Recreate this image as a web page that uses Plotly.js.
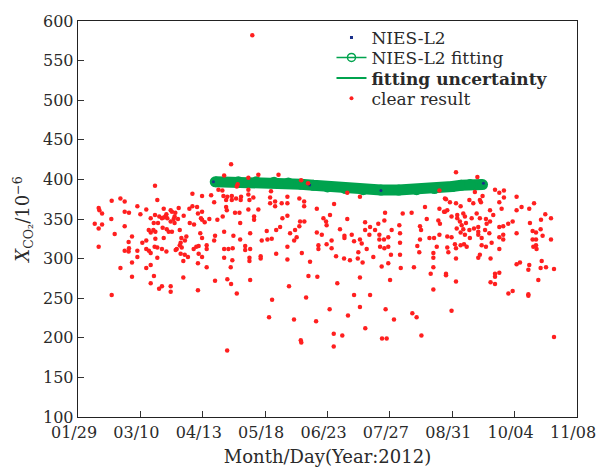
<!DOCTYPE html>
<html><head><meta charset="utf-8">
<script src="https://cdn.plot.ly/plotly-3.0.1.min.js"></script>
<style>html,body{margin:0;padding:0;background:#fff}#chart{width:597px;height:467px}</style>
</head><body><div id="chart"></div>
<script>
// x values: days after 01/29 (axis ticks every 35 days)
const tickDays = [0,35,70,105,140,175,210,245,280];
const tickLabels = ["01/29","03/10","04/13","05/18","06/23","07/27","08/31","10/04","11/08"];
const yTicks = [100,150,200,250,300,350,400,450,500,550,600];

const clearDays = [43.2,64.2,69.6,18.9,23.8,26.2,44.5,11.6,12.0,13.5,33.3,38.3,48.1,52.0,56.5,62.5,64.2,66.8,67.3,69.6,26.2,28.6,35.0,43.2,45.6,49.6,49.0,52.7,54.6,54.2,59.3,69.0,9.4,11.6,13.5,18.7,26.2,40.8,42.5,44.9,47.1,48.1,50.1,52.0,53.7,54.2,56.1,62.7,65.1,69.6,71.1,20.6,39.7,40.8,42.3,43.4,47.5,49.8,50.9,52.7,43.4,48.1,57.1,60.8,58.0,60.0,57.6,68.6,69.6,11.6,28.4,30.3,36.1,38.3,43.0,44.5,57.1,58.2,55.4,66.4,67.7,26.2,28.6,28.4,33.3,38.3,39.8,40.8,47.1,49.6,54.8,57.6,59.9,61.7,64.9,67.7,33.3,44.5,67.3,69.6,30.3,59.1,23.8,38.3,40.8,30.3,42.6,59.1,40.8,18.9,45.5,47.1,52.0,52.0,67.3,
85.9,82,95.6,101.2,112.5,125.2,129.1,89.6,78.8,81,89.1,95.6,74.7,76.4,81.6,83.1,83.8,86.3,86.3,88.7,91.5,91.3,95.6,96.2,98.4,108.3,107.8,107.8,110.6,110.6,114.3,117.5,117.5,124.2,126.9,126.9,134,73.7,78.2,81.2,83.1,83.5,88.1,90.6,95.6,98.8,98.8,101.2,91,114.7,117.5,124.6,127,137.7,139.2,82,76.9,87.2,96.6,105.9,111.2,113.4,119,121.8,124.2,122.7,121.3,134,136.8,91,103.1,106.3,108.7,76.4,72.2,72.2,93.8,93.8,96.6,82,84.4,86.8,117.5,125.6,134.9,134.9,82,86.6,96.2,96.2,102.5,102.5,111.2,117.5,130.2,72.2,85.7,129.3,134.3,76.9,83.8,96.6,85.9,89.1,118.4,128,108.9,107.2,121.2,133.6,125,125.3,83.7,97.8,
151.1,202.8,158.2,143.7,141.4,139.5,151.1,161.1,163.9,161.1,168.5,172.3,171.9,176,182.2,180.3,187.2,194.7,195.7,191.9,192.5,202.8,205.4,202.2,203.1,206.5,147,149.5,149.5,153.6,154.9,158.2,159.2,163.5,166.7,169.1,169.1,171.7,174.1,180.7,180.7,191.9,190.4,197.2,199.8,201.3,202.8,139.5,142.3,142.3,144.8,149.3,152.6,157,157.3,162,165.7,169.5,171.9,174.1,175.6,180.7,191.5,199.4,199.4,159.7,170.4,174.1,181.1,188.5,199.4,158.2,145.5,175.1,197.9,206.5,154.9,163.9,199.4,141.2,158.2,172.6,151.5,177.3,187.6,190,161.2,143.5,148.3,170.6,173.2,192.7,143.5,
212.1,224.1,222.7,227,225.5,234,236.4,239,239,236.4,237.7,246.1,248.9,246.1,253.2,255.9,262.2,265.4,259.8,253.6,243.9,241.4,238.6,236.4,246.1,255.1,257,259.6,260.7,255.1,257,265.4,238.6,238.6,236.4,236.4,232.1,255.5,257,257.3,246.1,248,253.2,260.2,259.6,262.6,267.1,252.7,258.3,205.9,208.7,212.1,214.7,219.6,221.8,226.1,205.9,207.2,209.6,212.8,212.8,216.2,217.1,220.9,223.7,225.5,228.9,231.2,233,231.2,229.3,214.3,215.3,217.7,212.5,214.7,216.2,219.6,222.2,224.6,224.6,228.4,207.2,209.6,217.1,219.9,224.6,226.5,230.8,211.5,214.7,216.6,218.1,207.2,212.1,207.8,212.1,226.5,228.9,225.5,224.6,231.5,206.5,212.1,234,234,236.4,231.5,234,241.5,243.9,252.7,252.7,209.6,267.1];
const clearVals = [392,382,379,373,376,372,374,364,361,357,366,362,363,361,364,363,366,365,357,359,359,358,356,355,353,356,353,359,358,353,354,351,344,338,343,350,341,351,345,345,351,352,351,347,350,345,350,345,343,349,346,331,336,333,336,334,339,337,334,334,325,326,336,328,326,323,320,332,326,315,321,328,320,323,315,314,317,314,312,315,316,310,313,309,310,312,310,307,312,309,311,306,305,302,312,306,302,301,294,302,295,297,288,288,292,277,278,276,269,254,262,265,265,258,260,
419,405,402,406,406,399,395,394,387,386,391,387,380,371,379,374,378,379,374,376,378,374,381,374,377,385,377,370,372,366,370,378,370,376,372,366,363,350,349,353,365,361,358,358,362,353,349,362,345,351,354,347,347,351,347,334,329,329,332,335,336,340,332,336,341,327,323,333,330,324,323,324,325,323,317,312,316,311,312,312,312,313,315,307,317,312,301,298,301,297,303,300,306,299,296,289,289,278,277,272,274,273,268,256,265,251,248,226,223,221,197,194,184,582,
383,386,378,369,355,342,350,346,340,336,344,358,348,336,357,342,358,365,350,341,336,363,359,348,344,375,337,329,326,330,322,324,319,330,336,330,324,324,327,332,320,324,316,326,326,315,330,318,323,313,303,300,298,300,308,312,302,315,313,315,305,305,308,307,301,295,290,294,288,289,289,276,269,273,281,281,254,254,261,236,239,236,228,223,231,226,212,205,203,199,199,203,189,
409,403,384,379,374,387,383,386,377,371,363,378,365,361,363,370,356,351,349,345,347,344,341,340,332,335,333,337,329,324,324,324,330,324,327,312,320,315,317,312,293,295,292,297,288,289,287,286,273,376,371,370,366,374,370,371,359,361,353,355,351,357,353,351,357,351,350,361,355,347,344,347,342,345,338,333,337,336,338,340,334,336,328,327,330,326,330,326,332,318,317,318,315,314,313,308,300,317,315,305,301,300,279,271,281,277,282,270,268,256,259,255,253,234,201];

const fitDays = [77,90,100,110,118,125,132,140,150,160,170,180,190,200,210,215,220,227];
const fitVals = [397,397,397,396.5,395.5,394,392.5,390.5,388.5,387,386.5,386.5,387,388.5,391,392.5,393.5,393.5];

const niesDays = [76,130,170,227.5];
const niesVals = [397,393,386,395];

const legendNames = ['NIES-L2', 'NIES-L2 fitting', '<b>fitting uncertainty</b>', 'clear result'];

const GREEN = '#00a34e';
const RED = '#ff1f1f';
const FONT = 'DejaVu Serif, serif';
const TXT = '#2a2a2a';
const NB = '\u00a0';

const traces = [
  {x: fitDays, y: fitVals, mode: 'lines+markers', line: {color: GREEN, width: 11},
   marker: {color: GREEN, size: 11, symbol: 'circle'}, showlegend: false, hoverinfo: 'skip'},
  {x: niesDays, y: niesVals, mode: 'markers', marker: {color: '#1a2f8a', size: 3}, showlegend: false},
  {x: clearDays, y: clearVals, mode: 'markers', marker: {color: RED, size: 4.5}, showlegend: false},
  // legend entries (each in its own legend box for tight row spacing)
  {x: [null], y: [null], mode: 'markers', name: legendNames[0], legend: 'legend',
   marker: {color: '#1a2f8a', size: 3, symbol: 'square'}},
  {x: [null], y: [null], mode: 'lines+markers', name: legendNames[1], legend: 'legend2',
   line: {color: GREEN, width: 1.5}, marker: {color: GREEN, size: 8, symbol: 'circle-open', line: {width: 1.5}}},
  {x: [null], y: [null], mode: 'lines', name: legendNames[2], legend: 'legend3', line: {color: GREEN, width: 2}},
  {x: [null], y: [null], mode: 'markers', name: legendNames[3], legend: 'legend4', marker: {color: RED, size: 4}}
];

function leg(y) {
  return {x: 0.508, y: y, xanchor: 'left', yanchor: 'middle', bgcolor: 'rgba(0,0,0,0)',
          borderwidth: 0, font: {family: FONT, size: 17, color: TXT}};
}

const layout = {
  width: 597, height: 467,
  margin: {l: 78, r: 20, t: 21, b: 50},
  paper_bgcolor: '#fff', plot_bgcolor: '#fff',
  font: {family: FONT, size: 16, color: TXT},
  showlegend: true,
  legend: leg(0.957), legend2: leg(0.907), legend3: leg(0.855), legend4: leg(0.804),
  xaxis: {range: [0, 280], tickmode: 'array', tickvals: tickDays, ticktext: tickLabels,
          ticks: 'inside', ticklen: 6, tickcolor: '#333', showgrid: false, zeroline: false,
          showline: true, linecolor: '#222', linewidth: 1.3, mirror: true,
          ticklabeloverflow: 'allow', ticklabelshift: -4,
          tickfont: {family: FONT, size: 16, color: TXT},
          title: {text: 'Month/Day(Year:2012)' + NB.repeat(4), font: {family: FONT, size: 18, color: TXT}, standoff: 18}},
  yaxis: {range: [100, 600], tickmode: 'array', tickvals: yTicks,
          ticks: 'inside', ticklen: 6, tickcolor: '#333', showgrid: false, zeroline: false,
          showline: true, linecolor: '#222', linewidth: 1.3, mirror: true,
          tickfont: {family: FONT, size: 16, color: TXT},
          title: {text: NB.repeat(4) + '<i>X</i><sub>CO₂</sub>/10<sup>−6</sup>', font: {family: FONT, size: 18, color: TXT}, standoff: 8}}
};

Plotly.newPlot('chart', traces, layout, {displayModeBar: false, staticPlot: true});
</script></body></html>
